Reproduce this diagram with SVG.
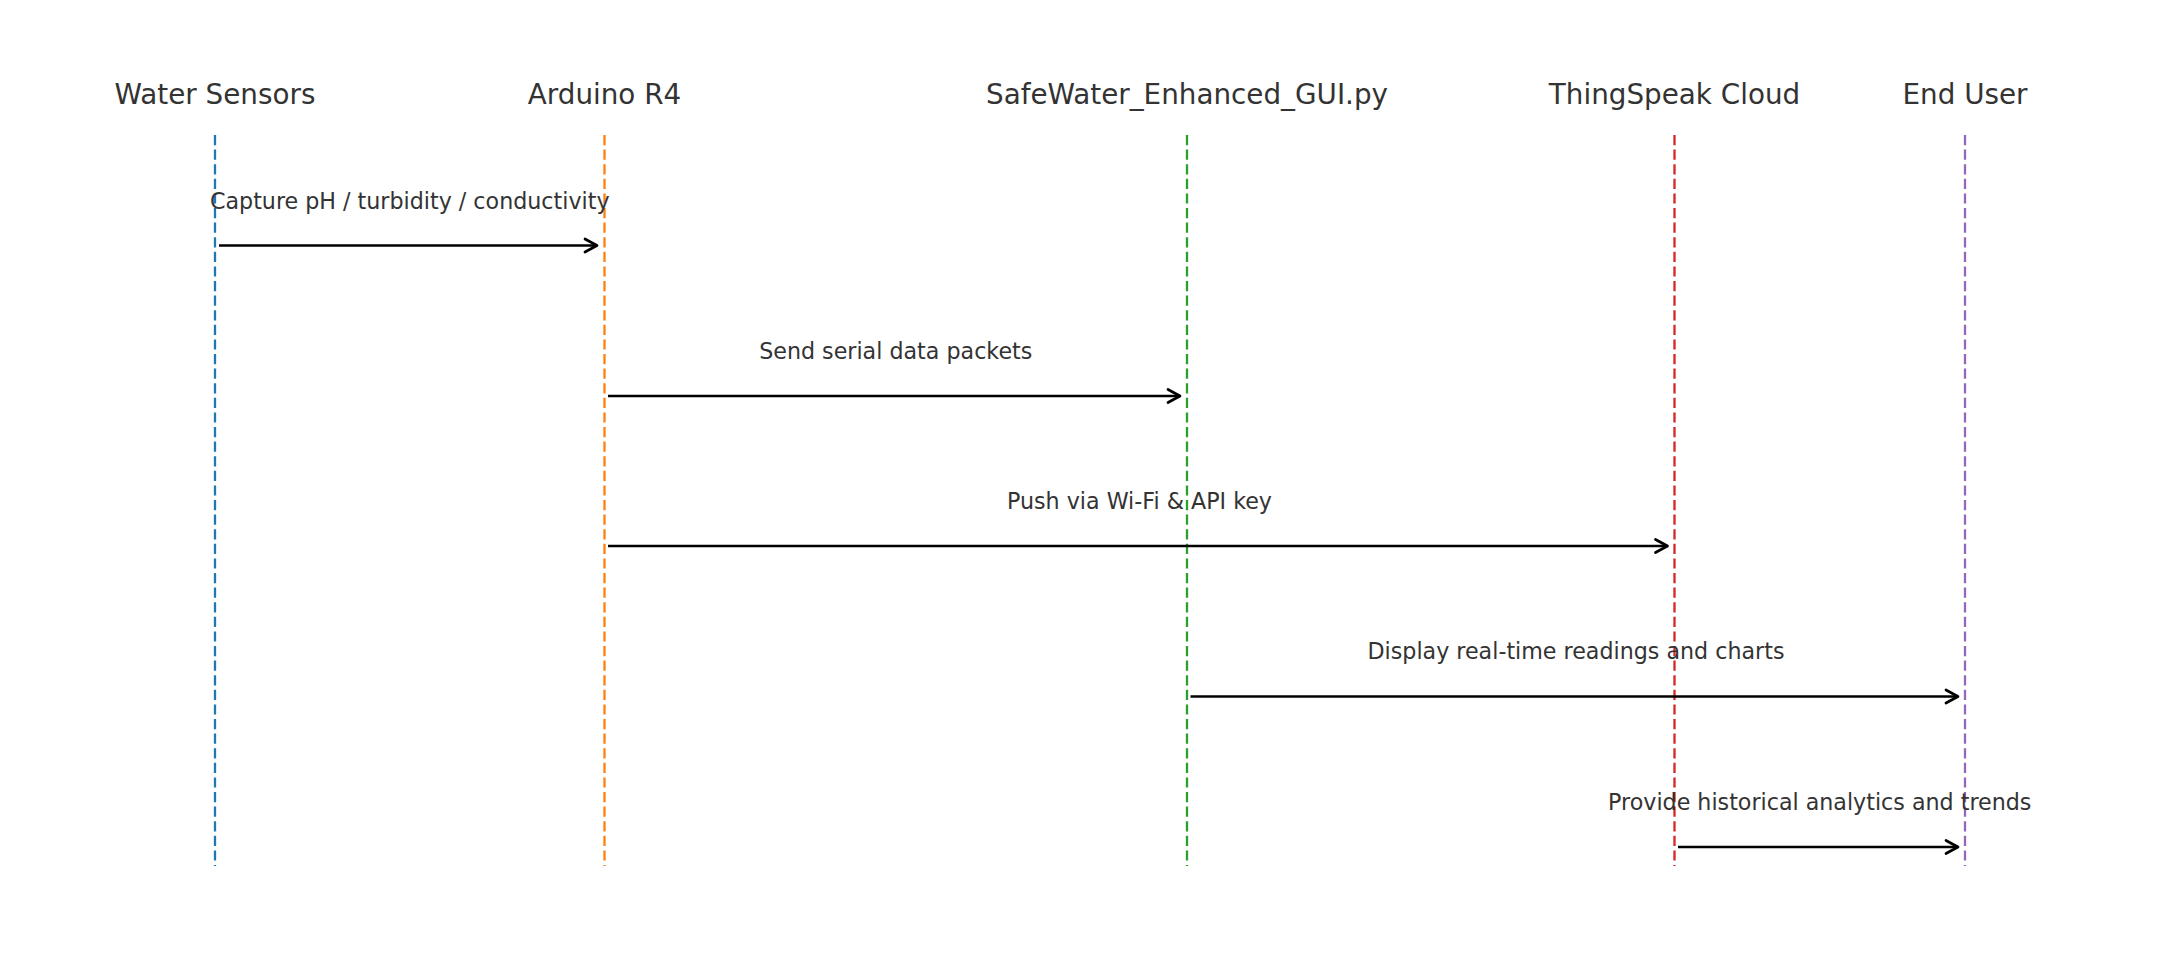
<svg xmlns="http://www.w3.org/2000/svg" width="2179" height="980" viewBox="0 0 2179 980">
<style>
.title{font-family:"DejaVu Sans",sans-serif;font-size:27.8px;fill:#333333;text-anchor:middle}
.lbl{font-family:"DejaVu Sans",sans-serif;font-size:22.2px;fill:#333333;text-anchor:middle}
.life{stroke-width:2.3;stroke-dasharray:10.2 4.4;fill:none}
.msg{stroke:#000;stroke-width:2.7;fill:none}
.head{stroke:#000;stroke-width:2.7;fill:none;stroke-linecap:round;stroke-linejoin:round}
</style>
<rect width="2179" height="980" fill="#ffffff"/>
<g id="node-water-sensors">
<text class="title" x="215" y="103.5">Water Sensors</text>
<line class="life" x1="215" y1="135" x2="215" y2="866" stroke="#1f77b4"/>
</g>
<g id="node-arduino">
<text class="title" x="604.5" y="103.5">Arduino R4</text>
<line class="life" x1="604.5" y1="135" x2="604.5" y2="866" stroke="#ff7f0e"/>
</g>
<g id="node-gui">
<text class="title" x="1187" y="103.5">SafeWater_Enhanced_GUI.py</text>
<line class="life" x1="1187" y1="135" x2="1187" y2="866" stroke="#2ca02c"/>
</g>
<g id="node-thingspeak">
<text class="title" x="1674.5" y="103.5">ThingSpeak Cloud</text>
<line class="life" x1="1674.5" y1="135" x2="1674.5" y2="866" stroke="#d62728"/>
</g>
<g id="node-end-user">
<text class="title" x="1965" y="103.5">End User</text>
<line class="life" x1="1965" y1="135" x2="1965" y2="866" stroke="#9467bd"/>
</g>
<g id="connectors">
<line class="msg" x1="219" y1="245.5" x2="597" y2="245.5"/>
<polyline class="head" points="585,239 597,245.5 585,252"/>
<text class="lbl" x="409.75" y="208.5">Capture pH / turbidity / conductivity</text>

<line class="msg" x1="608" y1="396" x2="1180" y2="396"/>
<polyline class="head" points="1168,389.5 1180,396 1168,402.5"/>
<text class="lbl" x="895.75" y="358.5">Send serial data packets</text>

<line class="msg" x1="608" y1="546" x2="1667.5" y2="546"/>
<polyline class="head" points="1655.5,539.5 1667.5,546 1655.5,552.5"/>
<text class="lbl" x="1139.5" y="508.5">Push via Wi-Fi &amp; API key</text>

<line class="msg" x1="1190.5" y1="696.5" x2="1958" y2="696.5"/>
<polyline class="head" points="1946,690 1958,696.5 1946,703"/>
<text class="lbl" x="1576" y="659">Display real-time readings and charts</text>

<line class="msg" x1="1678" y1="847" x2="1958" y2="847"/>
<polyline class="head" points="1946,840.5 1958,847 1946,853.5"/>
<text class="lbl" x="1819.75" y="809.5">Provide historical analytics and trends</text>
</g>
</svg>
